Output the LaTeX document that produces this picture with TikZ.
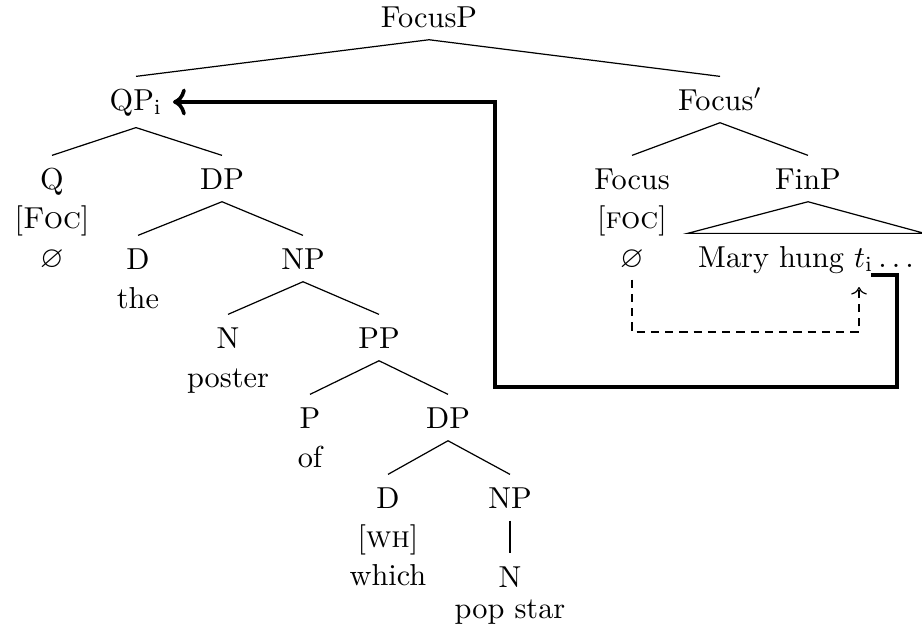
\documentclass[tikz,border=0pt]{standalone}
\usepackage{amssymb}
\usetikzlibrary{arrows.meta}
\begin{document}
\begin{tikzpicture}[x=0.33pt,y=-0.33pt,
  lab/.style={anchor=base, inner xsep=3.33pt, inner ysep=4pt, text height=6.9pt, text depth=0pt},
  sub/.style={anchor=base, inner sep=0pt},
  branch/.style={line width=0.4pt},
  move/.style={line width=1.2pt, -{To}},
  agree/.style={line width=0.4pt, dash pattern=on 2.7pt off 2pt, -{To}}]
\useasboundingbox (0,0) rectangle (922,635);
% level 0/1
\node[lab] (focusp) at (429,27) {FocusP};
\node[lab, text depth=1.6pt] (qp) at (136,110) {QP$_\mathrm{i}$};
\node[lab] (focusbar) at (720,110) {Focus$'$};
% level 2
\node[lab] (q) at (52,189) {Q};
\node[sub] (qfeat) at (52,228) {[\textsc{Foc}]};
\node[sub] (qnull) at (52,267) {$\varnothing$};
\node[lab] (dp1) at (222,189) {DP};
\node[lab] (focus) at (632,189) {Focus};
\node[sub] (focfeat) at (632,228) {[\textsc{foc}]};
\node[lab] (focnull) at (632,267) {$\varnothing$};
\node[lab] (finp) at (808,189) {FinP};
\node[lab] (mary) at (806,267) {Mary hung $t_\mathrm{i}\ldots$};
% level 3
\node[lab] (d1) at (138,269) {D};
\node[sub] (the) at (138,308) {the};
\node[lab] (np1) at (303,269) {NP};
% level 4
\node[lab] (n1) at (228,348) {N};
\node[sub] (poster) at (228,387) {poster};
\node[lab] (pp) at (379,348) {PP};
% level 5
\node[lab] (p) at (310,428) {P};
\node[sub] (of) at (310,467) {of};
\node[lab] (dp2) at (448,428) {DP};
% level 6
\node[lab] (d2) at (388,508) {D};
\node[sub] (whfeat) at (388,547) {[\textsc{wh}]};
\node[sub] (which) at (388,585) {which};
\node[lab] (np2) at (510,508) {NP};
% level 7
\node[lab] (n2) at (510,587) {N};
\node[sub] (popstar) at (510,618) {pop star};
% branches
\draw[branch] (focusp.south) -- (qp.north);
\draw[branch] (focusp.south) -- (focusbar.north);
\draw[branch] (qp.south) -- (q.north);
\draw[branch] (qp.south) -- (dp1.north);
\draw[branch] (focusbar.south) -- (focus.north);
\draw[branch] (focusbar.south) -- (finp.north);
\draw[branch] (finp.south) -- (mary.north west) -- (mary.north east) -- cycle;
\draw[branch] (dp1.south) -- (d1.north);
\draw[branch] (dp1.south) -- (np1.north);
\draw[branch] (np1.south) -- (n1.north);
\draw[branch] (np1.south) -- (pp.north);
\draw[branch] (pp.south) -- (p.north);
\draw[branch] (pp.south) -- (dp2.north);
\draw[branch] (dp2.south) -- (d2.north);
\draw[branch] (dp2.south) -- (np2.north);
\draw[branch] (np2.south) -- (n2.north);
% movement arrows
\coordinate (tstart) at (871,275);
\coordinate (mvcornerR) at (897,387);
\coordinate (mvcornerL) at (495,387);
\draw[move] (tstart) -| (mvcornerR) -- (mvcornerL) |- (qp.east);
\coordinate (agcorner) at (859,332);
\coordinate (agend) at (859,287);
\draw[agree] (focnull.south) |- (agcorner) -- (agend);
\end{tikzpicture}
\end{document}
